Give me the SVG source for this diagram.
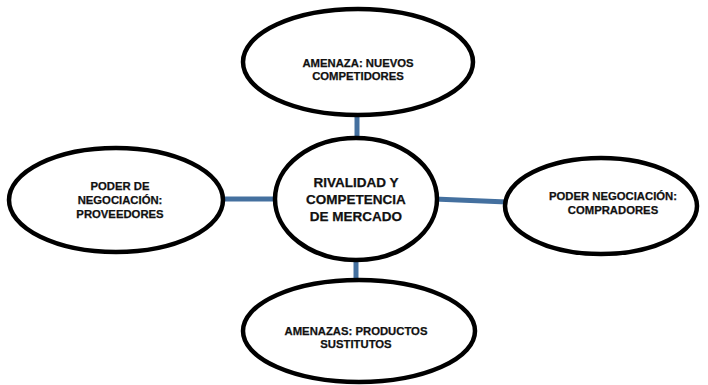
<svg xmlns="http://www.w3.org/2000/svg" width="708" height="385" viewBox="0 0 708 385">
<style>
.n{fill:#fff;stroke:#000;stroke-width:4.5}
.t{font-family:"Liberation Sans",Arial,sans-serif;font-weight:bold;font-size:11.3px;fill:#111;stroke:#111;stroke-width:0.25;text-anchor:middle}
.c{font-size:13.5px}
.e{stroke:#44709f;stroke-width:5;fill:none}
</style>
<rect width="708" height="385" fill="#fff"/>
<g id="connectors">
<line class="e" x1="357" y1="114" x2="357" y2="140"/>
<line class="e" x1="221" y1="199" x2="278" y2="199"/>
<line class="e" x1="434" y1="199" x2="507" y2="202"/>
<line class="e" x1="356" y1="259" x2="356" y2="283"/>
</g>
<g id="n-top">
<ellipse class="n" cx="358" cy="62" rx="115" ry="53"/>
<text class="t" x="358" y="67">AMENAZA: NUEVOS</text>
<text class="t" x="358" y="80">COMPETIDORES</text>
</g>
<g id="n-center">
<ellipse class="n" cx="356" cy="199" rx="81" ry="61"/>
<text class="t c" x="356" y="187">RIVALIDAD Y</text>
<text class="t c" x="356" y="204">COMPETENCIA</text>
<text class="t c" x="356" y="221">DE MERCADO</text>
</g>
<g id="n-left">
<ellipse class="n" cx="116" cy="200" rx="107" ry="52"/>
<text class="t" x="120" y="190">PODER DE</text>
<text class="t" x="120" y="204">NEGOCIACIÓN:</text>
<text class="t" x="120" y="218">PROVEEDORES</text>
</g>
<g id="n-right">
<ellipse class="n" cx="601" cy="206" rx="96" ry="48"/>
<text class="t" x="613" y="200">PODER NEGOCIACIÓN:</text>
<text class="t" x="613" y="214">COMPRADORES</text>
</g>
<g id="n-bottom">
<ellipse class="n" cx="359" cy="331" rx="116" ry="51"/>
<text class="t" x="356" y="335">AMENAZAS: PRODUCTOS</text>
<text class="t" x="356" y="348">SUSTITUTOS</text>
</g>
</svg>
